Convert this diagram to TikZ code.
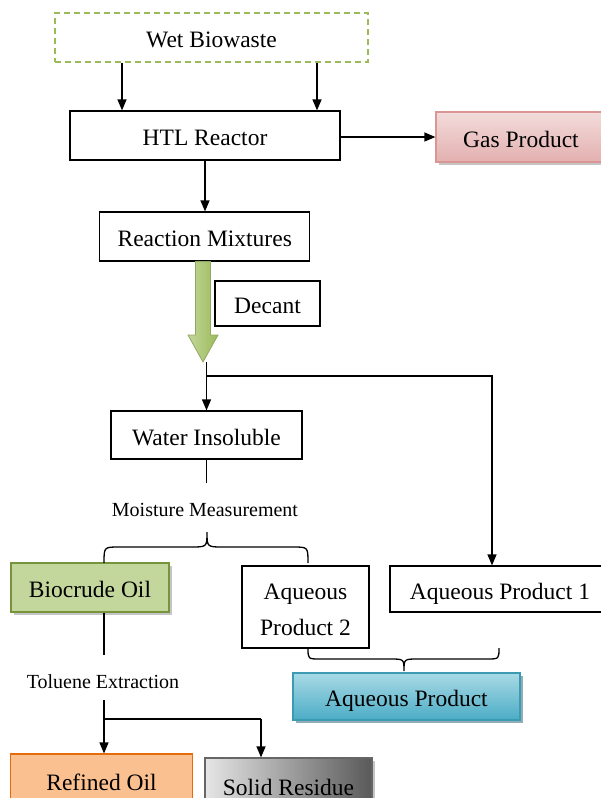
\documentclass[tikz,border=0pt]{standalone}
\usepackage{fontspec}
\setmainfont{Liberation Serif}
\usetikzlibrary{arrows.meta,shadows}
\definecolor{olive}{HTML}{9BBB59}
\definecolor{oliveline}{HTML}{77933C}
\definecolor{olivelight}{HTML}{C3D69B}
\definecolor{gastop}{HTML}{F2DCDB}
\definecolor{gasbot}{HTML}{E3B0AF}
\definecolor{gasline}{HTML}{D99694}
\definecolor{aqtop}{HTML}{A9DAE6}
\definecolor{aqbot}{HTML}{4BACC6}
\definecolor{aqline}{HTML}{3C9AB3}
\definecolor{reffill}{HTML}{FAC090}
\definecolor{refline}{HTML}{E46C0A}
\begin{document}
\begin{tikzpicture}[x=1pt,y=-1pt,
    box/.style={draw,line width=1.2pt,minimum height=49pt,inner sep=0pt,
        text height=20pt,text depth=0pt,font=\fontsize{23.5}{28}\selectfont},
    note/.style={inner sep=0pt,font=\fontsize{20}{24}\selectfont},
    link/.style={line width=1.3pt},
    arr/.style={link,-{Triangle[length=11pt,width=9pt]}},
    shade/.style={drop shadow={shadow xshift=3pt,shadow yshift=-3pt,fill=black!45}}]
    \useasboundingbox (0,0) rectangle (600,798);
    \node[box,minimum width=313pt,draw=olive,dash pattern=on 6pt off 4pt] (wet) at (211.5,37.5) {Wet Biowaste};
    \node[box,minimum width=270pt] (htl) at (205,135.5) {HTL Reactor};
    \node[box,minimum width=170pt,minimum height=50pt,draw=gasline,top color=gastop,bottom color=gasbot,shade] (gas) at (521,137) {Gas Product};
    \node[box,minimum width=210pt] (rm) at (204.75,236.5) {Reaction Mixtures};
    \node[box,minimum width=105pt,minimum height=45pt] (decant) at (267.5,303.5) {Decant};
    \node[box,minimum width=191pt,minimum height=48pt] (wi) at (206.5,435) {Water Insoluble};
    \node[note] (mm) at (205,510) {Moisture Measurement};
    \node[box,minimum width=158pt,draw=oliveline,fill=olivelight,shade] (bio) at (90,587.5) {Biocrude Oil};
    \node[box,minimum width=127pt,minimum height=82pt,align=center,text height=,text depth=,
        font=\fontsize{23.5}{36}\selectfont] (aq2) at (305.5,607) {\rule{0pt}{22pt}Aqueous\\Product 2};
    \node[box,minimum width=220pt,minimum height=46pt] (aq1) at (500,589) {Aqueous Product 1};
    \node[note] (te) at (103,682) {Toluene Extraction};
    \node[box,minimum width=227pt,minimum height=47pt,draw=aqline,top color=aqtop,bottom color=aqbot,
        drop shadow={shadow xshift=3pt,shadow yshift=-3pt,fill=aqline!60!black}] (aq) at (406.5,696.5) {Aqueous Product};
    \node[box,minimum width=182pt,minimum height=52pt,draw=refline,fill=reffill] (ref) at (101.5,780) {Refined Oil};
    \node[box,minimum width=167pt,minimum height=54pt,draw=black!60,left color=black!10,right color=black!65,shade] (sol) at (288.5,785) {Solid Residue};
    \coordinate (dtip) at (203,362);
    \coordinate (split) at (206.5,376);
    \coordinate (tsplit) at (104,719);
    \foreach \x in {122,317}{
        \draw[arr] (wet.south -| \x,0) -- (htl.north -| \x,0);
    }
    \draw[arr] (gas.west -| htl.east) -- (gas.west);
    \draw[arr] (htl.south) -- (htl.south |- rm.north);
    \draw[draw=oliveline!80,line width=0.8pt,left color=olivelight,right color=olive]
        (rm.south -| 195.5,0) -- (rm.south -| 210.5,0) -- (210.5,335) -- (218,335) -- (dtip)
        -- (188,335) -- (195.5,335) -- cycle;
    \draw[arr] (wi.north |- dtip) -- (wi.north);
    \draw[arr] (split) -| (aq1.north -| 492,0);
    \draw[link] (wi.south) -- (206.5,483);
    \draw[link] (104,563) .. controls (104,547) .. (119,547) -- (191,547)
        .. controls (207,547) .. (207,532) .. controls (207,547) .. (223,547)
        -- (293,547) .. controls (308,547) .. (308,563);
    \draw[link] (308,648) .. controls (308,659) .. (320,659) -- (390,659)
        .. controls (404,659) .. (404,671) .. controls (404,659) .. (418,659)
        -- (487,659) .. controls (499,659) .. (499,648);
    \draw[link] (bio.south -| 104,0) -- (104,655);
    \draw[link] (104,700) -- (tsplit) -- (tsplit -| 261,0);
    \draw[arr] (tsplit) -- (ref.north -| tsplit);
    \draw[arr] (tsplit -| 261,0) -- (sol.north -| 261,0);
\end{tikzpicture}
\end{document}
